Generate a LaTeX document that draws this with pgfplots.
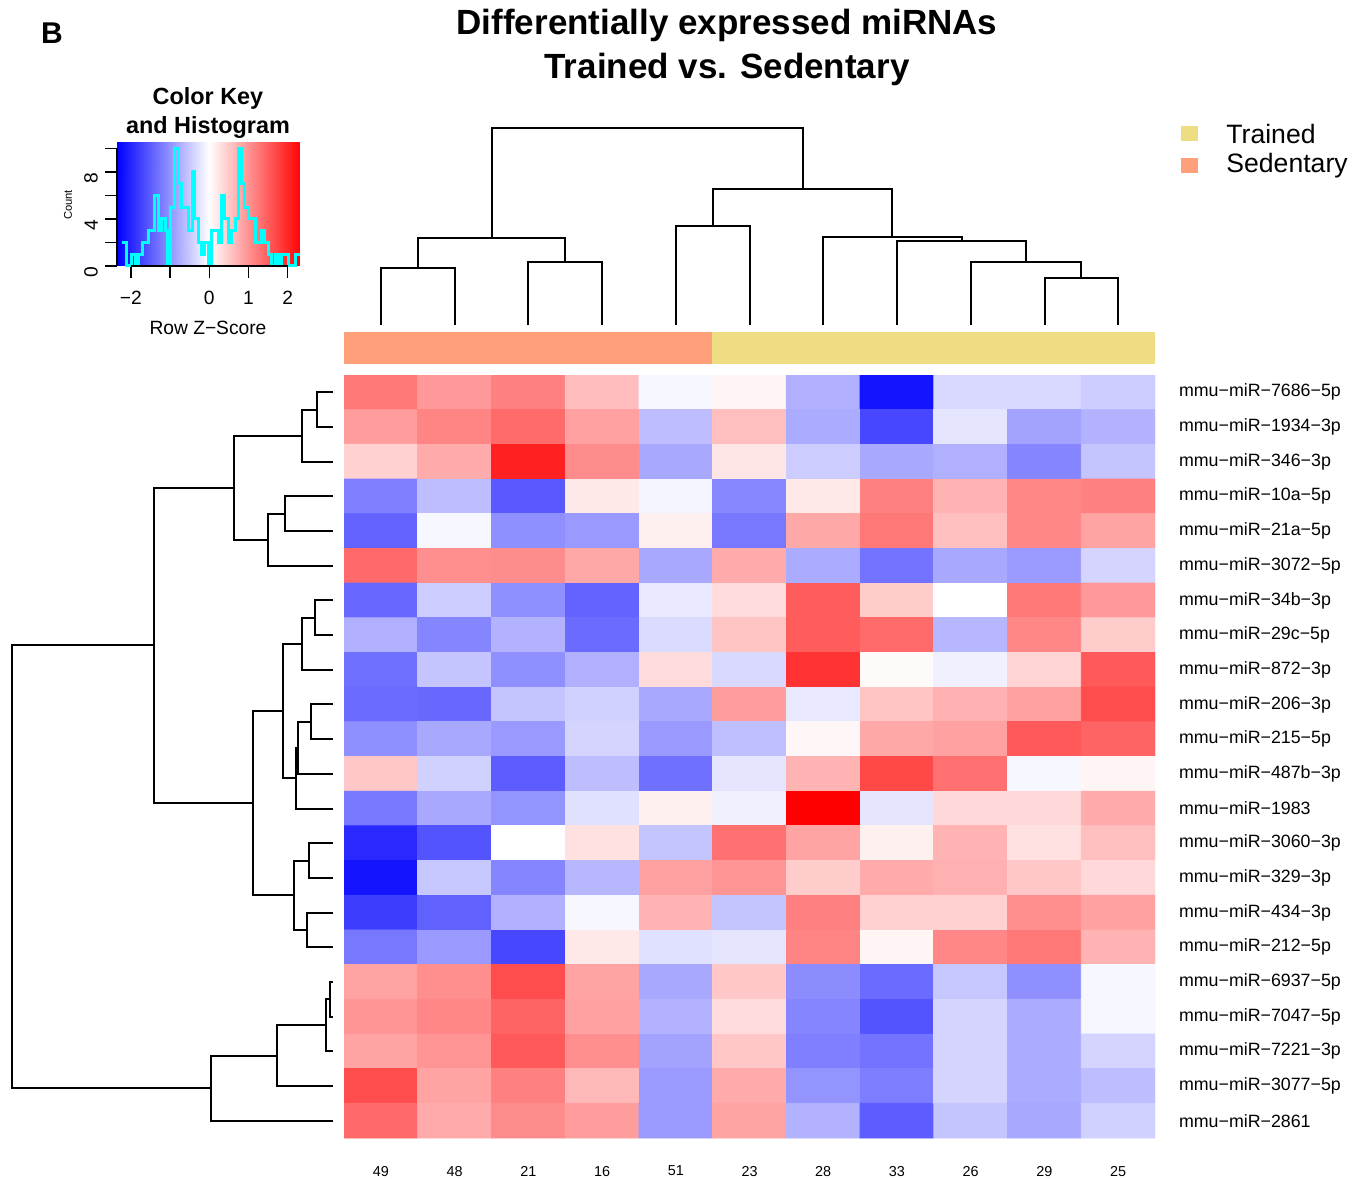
\documentclass[border=0pt]{standalone}
\usepackage{fontspec}
\setmainfont{Liberation Sans}
\usepackage{pgfplots}
\pgfplotsset{compat=1.18}
\definecolor{sed}{HTML}{FFA07A}
\definecolor{trn}{HTML}{EEDD82}
\definecolor{cyn}{rgb}{0,1,1}
\begin{document}
\begin{tikzpicture}
% ---------------- canvas (pixel coordinates) ----------------
\begin{axis}[name=canvas, at={(0,0)}, anchor=south west, scale only axis,
  width=684.5pt, height=589pt, xmin=0, xmax=1369, ymin=0, ymax=1178,
  y dir=reverse, hide axis, clip=false]
% column side colours
\addplot[fill=sed, draw=none] coordinates {(344,332) (712,332) (712,364) (344,364)};
\addplot[fill=trn, draw=none] coordinates {(712,332) (1155,332) (1155,364) (712,364)};
% legend squares
\addplot[fill=trn, draw=none] coordinates {(1181,126) (1198,126) (1198,141) (1181,141)};
\addplot[fill=sed, draw=none] coordinates {(1181,158) (1198,158) (1198,173) (1181,173)};
% top dendrogram
\pgfplotsset{dend/.style={black, line width=1pt, line join=miter}}
\addplot[dend] coordinates {(380.9,325) (380.9,267.7) (454.6,267.7) (454.6,325)};
\addplot[dend] coordinates {(528.4,325) (528.4,261.7) (602.1,261.7) (602.1,325)};
\addplot[dend] coordinates {(417.8,267.7) (417.8,238.3) (565.3,238.3) (565.3,261.7)};
\addplot[dend] coordinates {(675.8,325) (675.8,226) (749.5,226) (749.5,325)};
\addplot[dend] coordinates {(1044.5,325) (1044.5,278.3) (1118.2,278.3) (1118.2,325)};
\addplot[dend] coordinates {(970.7,325) (970.7,261.7) (1081.4,261.7) (1081.4,278.3)};
\addplot[dend] coordinates {(897.0,325) (897.0,240.7) (1026,240.7) (1026,261.7)};
\addplot[dend] coordinates {(823.3,325) (823.3,236.7) (961.5,236.7) (961.5,240.7)};
\addplot[dend] coordinates {(712.7,226) (712.7,188.7) (892.4,188.7) (892.4,236.7)};
\addplot[dend] coordinates {(491.5,238.3) (491.5,127.7) (802.5,127.7) (802.5,188.7)};
% left dendrogram
\addplot[dend] coordinates {(333,392.3) (316.7,392.3) (316.7,427) (333,427)};
\addplot[dend] coordinates {(316.7,409.7) (302.3,409.7) (302.3,461.7) (333,461.7)};
\addplot[dend] coordinates {(333,496.4) (285,496.4) (285,531) (333,531)};
\addplot[dend] coordinates {(285,513.7) (268.3,513.7) (268.3,565.7) (333,565.7)};
\addplot[dend] coordinates {(302.3,435.7) (234.3,435.7) (234.3,539.7) (268.3,539.7)};
\addplot[dend] coordinates {(333,600.4) (315,600.4) (315,635.1) (333,635.1)};
\addplot[dend] coordinates {(315,617.8) (302.3,617.8) (302.3,669.8) (333,669.8)};
\addplot[dend] coordinates {(333,704.4) (311,704.4) (311,739.1) (333,739.1)};
\addplot[dend] coordinates {(311,721.8) (297.7,721.8) (297.7,773.8) (333,773.8)};
\addplot[dend] coordinates {(297.7,747.8) (296,747.8) (296,808.5) (333,808.5)};
\addplot[dend] coordinates {(302.3,643.8) (283.3,643.8) (283.3,778.2) (296,778.2)};
\addplot[dend] coordinates {(333,843.2) (309,843.2) (309,877.8) (333,877.8)};
\addplot[dend] coordinates {(333,912.5) (306.7,912.5) (306.7,947.2) (333,947.2)};
\addplot[dend] coordinates {(309,860.5) (294,860.5) (294,929.9) (306.7,929.9)};
\addplot[dend] coordinates {(283.3,711) (253.3,711) (253.3,895.2) (294,895.2)};
\addplot[dend] coordinates {(234.3,487.7) (153.7,487.7) (153.7,803.1) (253.3,803.1)};
\addplot[dend] coordinates {(333,981.9) (330,981.9) (330,1016.6) (333,1016.6)};
\addplot[dend] coordinates {(330,999.3) (326,999.3) (326,1051.2) (333,1051.2)};
\addplot[dend] coordinates {(326,1025.2) (276.7,1025.2) (276.7,1085.9) (333,1085.9)};
\addplot[dend] coordinates {(276.7,1055.6) (210.7,1055.6) (210.7,1120.6) (333,1120.6)};
\addplot[dend] coordinates {(153.7,645.4) (11.7,645.4) (11.7,1088.1) (210.7,1088.1)};
% texts
\node[font=\bfseries\fontsize{15}{18}\selectfont] at (axis cs:52,33) {B};
\node[font=\bfseries\fontsize{17.5}{21}\selectfont] at (axis cs:727,25) {Differentially expressed miRNAs};
\node[font=\bfseries\fontsize{17.5}{21}\selectfont] at (axis cs:727,69) {Trained vs. Sedentary};
\node[font=\bfseries\fontsize{11.7}{14}\selectfont] at (axis cs:208,98) {Color Key};
\node[font=\bfseries\fontsize{11.7}{14}\selectfont] at (axis cs:208,127) {and Histogram};
\node[font=\fontsize{9.6}{11}\selectfont] at (axis cs:208,328) {Row Z−Score};
\node[font=\fontsize{5.6}{7}\selectfont, rotate=90] at (axis cs:68,205) {Count};
\node[font=\fontsize{13.3}{16}\selectfont, anchor=west, inner sep=0pt] at (axis cs:1226,134) {Trained};
\node[font=\fontsize{13.3}{16}\selectfont, anchor=west, inner sep=0pt] at (axis cs:1226,166) {Sedentary};
\end{axis}
% ---------------- heatmap ----------------
\begin{axis}[at={(172pt,401.5pt)}, anchor=north west, scale only axis,
  width=405.5pt, height=381.5pt, xmin=-0.5, xmax=10.5, ymin=-0.5, ymax=21.5,
  y dir=reverse, axis line style={draw=none}, major tick length=0pt,
  colormap={bwr}{rgb=(0,0,1) rgb=(1,1,1) rgb=(1,0,0)},
  point meta min=-1, point meta max=1,
  xtick={0,...,10}, xticklabels={49,48,21,16,51,23,28,33,26,29,25},
  xtick pos=bottom, ytick pos=right,
  xticklabel style={font=\fontsize{7.2}{8}\selectfont, yshift=-10.5pt},
  ytick={0,...,21},
  yticklabels={mmu−miR−7686−5p,mmu−miR−1934−3p,mmu−miR−346−3p,mmu−miR−10a−5p,mmu−miR−21a−5p,mmu−miR−3072−5p,mmu−miR−34b−3p,mmu−miR−29c−5p,mmu−miR−872−3p,mmu−miR−206−3p,mmu−miR−215−5p,mmu−miR−487b−3p,mmu−miR−1983,mmu−miR−3060−3p,mmu−miR−329−3p,mmu−miR−434−3p,mmu−miR−212−5p,mmu−miR−6937−5p,mmu−miR−7047−5p,mmu−miR−7221−3p,mmu−miR−3077−5p,mmu−miR−2861},
  yticklabel pos=right,
  yticklabel style={font=\fontsize{8.9}{10}\selectfont, anchor=west, xshift=8.5pt}]
\addplot[matrix plot*, mesh/cols=11, point meta=explicit] coordinates {
(0,0) [0.53] (1,0) [0.40] (2,0) [0.50] (3,0) [0.26] (4,0) [-0.03] (5,0) [0.04] (6,0) [-0.31] (7,0) [-0.92] (8,0) [-0.15] (9,0) [-0.15] (10,0) [-0.20]
(0,1) [0.39] (1,1) [0.48] (2,1) [0.58] (3,1) [0.37] (4,1) [-0.26] (5,1) [0.25] (6,1) [-0.33] (7,1) [-0.72] (8,1) [-0.10] (9,1) [-0.36] (10,1) [-0.30]
(0,2) [0.18] (1,2) [0.33] (2,2) [0.87] (3,2) [0.45] (4,2) [-0.34] (5,2) [0.10] (6,2) [-0.20] (7,2) [-0.34] (8,2) [-0.31] (9,2) [-0.48] (10,2) [-0.23]
(0,3) [-0.50] (1,3) [-0.26] (2,3) [-0.65] (3,3) [0.09] (4,3) [-0.04] (5,3) [-0.47] (6,3) [0.09] (7,3) [0.50] (8,3) [0.30] (9,3) [0.47] (10,3) [0.50]
(0,4) [-0.61] (1,4) [-0.03] (2,4) [-0.44] (3,4) [-0.40] (4,4) [0.06] (5,4) [-0.53] (6,4) [0.34] (7,4) [0.53] (8,4) [0.25] (9,4) [0.47] (10,4) [0.36]
(0,5) [0.59] (1,5) [0.44] (2,5) [0.45] (3,5) [0.34] (4,5) [-0.34] (5,5) [0.33] (6,5) [-0.33] (7,5) [-0.55] (8,5) [-0.34] (9,5) [-0.39] (10,5) [-0.17]
(0,6) [-0.59] (1,6) [-0.20] (2,6) [-0.44] (3,6) [-0.61] (4,6) [-0.09] (5,6) [0.14] (6,6) [0.64] (7,6) [0.20] (8,6) [0.00] (9,6) [0.53] (10,6) [0.40]
(0,7) [-0.31] (1,7) [-0.48] (2,7) [-0.30] (3,7) [-0.58] (4,7) [-0.14] (5,7) [0.23] (6,7) [0.64] (7,7) [0.58] (8,7) [-0.28] (9,7) [0.47] (10,7) [0.20]
(0,8) [-0.56] (1,8) [-0.23] (2,8) [-0.44] (3,8) [-0.31] (4,8) [0.14] (5,8) [-0.15] (6,8) [0.80] (7,8) [0.02] (8,8) [-0.06] (9,8) [0.17] (10,8) [0.65]
(0,9) [-0.58] (1,9) [-0.59] (2,9) [-0.23] (3,9) [-0.18] (4,9) [-0.34] (5,9) [0.39] (6,9) [-0.09] (7,9) [0.23] (8,9) [0.31] (9,9) [0.37] (10,9) [0.70]
(0,10) [-0.44] (1,10) [-0.34] (2,10) [-0.40] (3,10) [-0.17] (4,10) [-0.40] (5,10) [-0.25] (6,10) [0.03] (7,10) [0.34] (8,10) [0.37] (9,10) [0.65] (10,10) [0.61]
(0,11) [0.22] (1,11) [-0.18] (2,11) [-0.64] (3,11) [-0.26] (4,11) [-0.56] (5,11) [-0.10] (6,11) [0.30] (7,11) [0.72] (8,11) [0.56] (9,11) [-0.03] (10,11) [0.04]
(0,12) [-0.53] (1,12) [-0.34] (2,12) [-0.42] (3,12) [-0.12] (4,12) [0.06] (5,12) [-0.06] (6,12) [1.00] (7,12) [-0.10] (8,12) [0.15] (9,12) [0.15] (10,12) [0.33]
(0,13) [-0.84] (1,13) [-0.67] (2,13) [0.00] (3,13) [0.12] (4,13) [-0.23] (5,13) [0.56] (6,13) [0.36] (7,13) [0.06] (8,13) [0.30] (9,13) [0.12] (10,13) [0.25]
(0,14) [-0.92] (1,14) [-0.22] (2,14) [-0.48] (3,14) [-0.28] (4,14) [0.37] (5,14) [0.42] (6,14) [0.20] (7,14) [0.33] (8,14) [0.31] (9,14) [0.22] (10,14) [0.15]
(0,15) [-0.76] (1,15) [-0.62] (2,15) [-0.31] (3,15) [-0.03] (4,15) [0.30] (5,15) [-0.23] (6,15) [0.50] (7,15) [0.18] (8,15) [0.18] (9,15) [0.44] (10,15) [0.37]
(0,16) [-0.53] (1,16) [-0.40] (2,16) [-0.72] (3,16) [0.09] (4,16) [-0.12] (5,16) [-0.10] (6,16) [0.48] (7,16) [0.04] (8,16) [0.47] (9,16) [0.53] (10,16) [0.30]
(0,17) [0.36] (1,17) [0.44] (2,17) [0.70] (3,17) [0.36] (4,17) [-0.34] (5,17) [0.22] (6,17) [-0.45] (7,17) [-0.58] (8,17) [-0.22] (9,17) [-0.44] (10,17) [-0.03]
(0,18) [0.42] (1,18) [0.47] (2,18) [0.61] (3,18) [0.37] (4,18) [-0.30] (5,18) [0.14] (6,18) [-0.48] (7,18) [-0.67] (8,18) [-0.17] (9,18) [-0.33] (10,18) [-0.03]
(0,19) [0.36] (1,19) [0.42] (2,19) [0.65] (3,19) [0.44] (4,19) [-0.36] (5,19) [0.22] (6,19) [-0.50] (7,19) [-0.55] (8,19) [-0.17] (9,19) [-0.33] (10,19) [-0.17]
(0,20) [0.70] (1,20) [0.36] (2,20) [0.50] (3,20) [0.28] (4,20) [-0.39] (5,20) [0.33] (6,20) [-0.42] (7,20) [-0.51] (8,20) [-0.17] (9,20) [-0.33] (10,20) [-0.26]
(0,21) [0.59] (1,21) [0.33] (2,21) [0.45] (3,21) [0.39] (4,21) [-0.39] (5,21) [0.36] (6,21) [-0.30] (7,21) [-0.64] (8,21) [-0.23] (9,21) [-0.34] (10,21) [-0.18]
};
\end{axis}
% ---------------- colour key and histogram ----------------
\begin{axis}[at={(58.5pt,456pt)}, anchor=south west, scale only axis,
  width=91.5pt, height=62pt, xmin=-2.355, xmax=2.314, ymin=0, ymax=10.55,
  colormap={bwr}{rgb=(0,0,1) rgb=(1,1,1) rgb=(1,0,0)},
  point meta min=-2.35, point meta max=2.35,
  axis line style={draw=none}, tick align=outside, major tick length=6pt,
  tick style={black, line width=0.8pt},
  xtick pos=bottom, ytick pos=left,
  xtick={-2,-1,0,1,2}, xticklabels={−2,,0,1,2},
  ytick={0,2,4,6,8,10}, yticklabels={0,,4,,8,},
  xticklabel style={font=\fontsize{9.6}{11}\selectfont, yshift=-3pt},
  yticklabel style={font=\fontsize{9.6}{11}\selectfont, rotate=90, anchor=south, xshift=-3pt},
  clip=false]
\addplot[surf, shader=interp, point meta=x] coordinates {
(-2.355,0) (0,0) (2.314,0)

(-2.355,10.55) (0,10.55) (2.314,10.55)
};
\addplot[cyn, line width=1.5pt, const plot] coordinates {
(-2.22,2) (-2.11,0) (-1.98,1) (-1.88,0) (-1.80,1) (-1.71,2) (-1.56,3) (-1.39,6) (-1.30,3) (-1.22,4) (-1.13,3) (-1.06,0) (-1.00,5) (-0.89,10) (-0.79,7) (-0.71,5) (-0.54,3) (-0.43,8) (-0.37,4) (-0.28,2) (-0.20,1) (-0.11,2) (-0.03,0) (0.06,3) (0.23,2) (0.31,6) (0.40,4) (0.49,2) (0.57,3) (0.66,4) (0.74,10) (0.83,7) (0.91,5) (1.00,4) (1.17,2) (1.34,3) (1.42,2) (1.51,1) (1.59,0) (1.68,1) (1.76,0) (1.85,1) (2.02,0) (2.19,1) (2.31,1)
};
\draw[black, line width=0.8pt] (axis cs:-2,0) -- (axis cs:2,0);
\draw[black, line width=0.8pt] (axis cs:-2.355,0) -- (axis cs:-2.355,10);
\end{axis}
\pgfresetboundingbox
\useasboundingbox (0,0) rectangle (684.5pt,589pt);
\end{tikzpicture}
\end{document}
